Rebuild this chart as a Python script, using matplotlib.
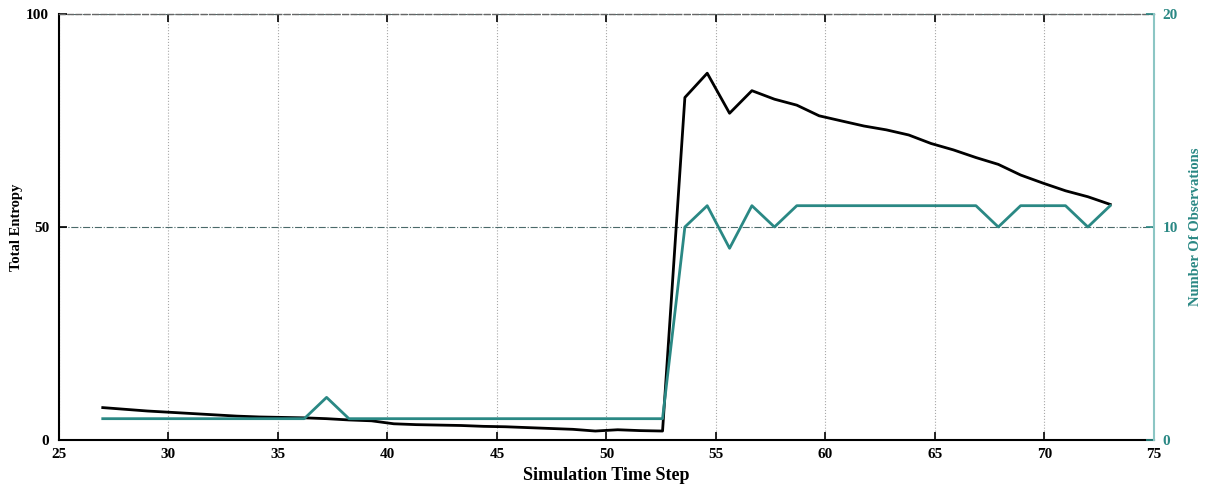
import matplotlib.pyplot as plt
import numpy as np

# simulation time steps (46 samples between step 27 and step 73)
time_steps = [27.00, 28.02, 29.04, 30.07, 31.09, 32.11, 33.13, 34.16, 35.18, 36.20,
              37.22, 38.24, 39.27, 40.29, 41.31, 42.33, 43.36, 44.38, 45.40, 46.42,
              47.44, 48.47, 49.49, 50.51, 51.53, 52.56, 53.58, 54.60, 55.62, 56.64,
              57.67, 58.69, 59.71, 60.73, 61.76, 62.78, 63.80, 64.82, 65.84, 66.87,
              67.89, 68.91, 69.93, 70.96, 71.98, 73.00]

total_entropy = [7.6, 7.2, 6.8, 6.5, 6.2, 5.9, 5.6, 5.4, 5.3, 5.2,
                 5.0, 4.7, 4.5, 3.8, 3.6, 3.5, 3.4, 3.2, 3.1, 2.9,
                 2.7, 2.5, 2.1, 2.4, 2.2, 2.1, 80.4, 86.1, 76.7, 82.0,
                 80.0, 78.6, 76.1, 74.9, 73.7, 72.8, 71.6, 69.6, 68.1, 66.3,
                 64.7, 62.2, 60.3, 58.5, 57.1, 55.3]

num_observations = [1, 1, 1, 1, 1, 1, 1, 1, 1, 1,
                    2, 1, 1, 1, 1, 1, 1, 1, 1, 1,
                    1, 1, 1, 1, 1, 1, 10, 11, 9, 11,
                    10, 11, 11, 11, 11, 11, 11, 11, 11, 11,
                    10, 11, 11, 11, 10, 11]

x_ticks = [25, 30, 35, 40, 45, 50, 55, 60, 65, 70, 75]
left_ticks = [0, 50, 100]
right_ticks = [0, 10, 20]

teal = '#2a8884'
serif = 'Liberation Serif'

fig = plt.figure(figsize=(12.08, 4.86), dpi=100)
ax = fig.add_axes([0.0488, 0.0947, 0.9065, 0.8765])

ax.plot(time_steps, total_entropy, color='black', lw=2.0, zorder=3)
ax.set_xlim(25, 75)
ax.set_ylim(0, 100)
ax.set_xticks(x_ticks)
ax.set_yticks(left_ticks)

# dotted vertical grid, dash-dot horizontal grid
ax.grid(axis='x', ls=':', color='#a8a8a8', lw=0.8)
ax.grid(axis='y', ls='-.', color='#4a6a6a', lw=0.8)
ax.set_axisbelow(True)

ax.tick_params(axis='x', direction='in', length=6, width=1.2, top=True, pad=6)
ax.tick_params(axis='y', direction='in', length=6, width=1.2, pad=7)
for lab in ax.get_xticklabels() + ax.get_yticklabels():
    lab.set_fontfamily(serif)
    lab.set_fontweight('bold')
    lab.set_fontsize(11)

ax.spines['left'].set_linewidth(1.5)
ax.spines['bottom'].set_linewidth(1.5)
ax.spines['top'].set_linewidth(1.0)
ax.spines['top'].set_linestyle((0, (4, 2)))
ax.spines['top'].set_color('#666666')
ax.spines['right'].set_visible(False)

ax.set_xlabel('Simulation Time Step', fontfamily=serif, fontweight='bold', fontsize=13, labelpad=4)
ax.set_ylabel('Total Entropy', fontfamily=serif, fontweight='bold', fontsize=10.5)
ax.yaxis.set_label_coords(-0.033, 0.5)

# second axis for the observation count
ax2 = ax.twinx()
ax2.plot(time_steps, num_observations, color=teal, lw=2.0, zorder=3)
ax2.set_ylim(0, 20)
ax2.set_yticks(right_ticks)
ax2.tick_params(axis='y', direction='in', length=6, width=1.2, colors=teal, pad=6)
for lab in ax2.get_yticklabels():
    lab.set_fontfamily(serif)
    lab.set_fontweight('bold')
    lab.set_fontsize(11)
for side in ['left', 'top', 'bottom']:
    ax2.spines[side].set_visible(False)
ax2.spines['right'].set_color('#8cc6c4')
ax2.spines['right'].set_linewidth(1.5)
ax2.set_ylabel('Number Of Observations', fontfamily=serif, fontweight='bold',
               fontsize=10.5, color=teal)
ax2.yaxis.set_label_coords(1.032, 0.5)

fig.savefig('out.png', dpi=100)
